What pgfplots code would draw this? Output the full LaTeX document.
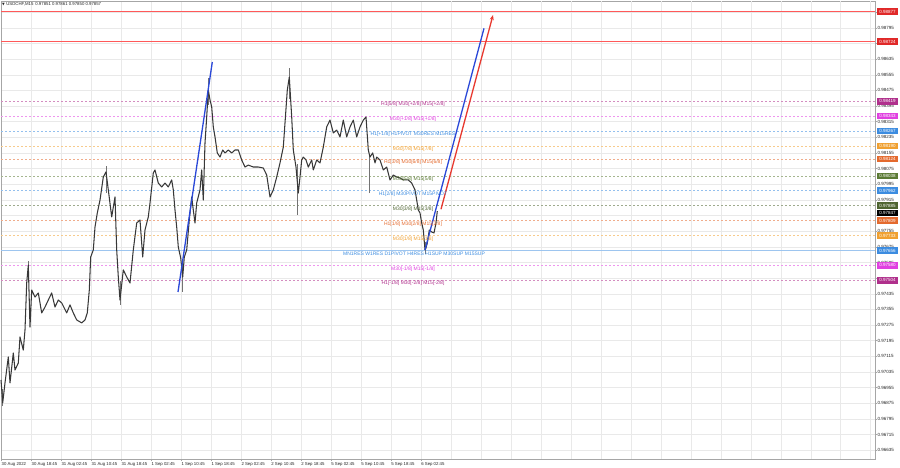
\documentclass[border=0pt]{standalone}
\usepackage{pgfplots}
\pgfplotsset{compat=1.18}
\usepackage{fontspec}
\setmainfont{Liberation Sans}
\newfontfamily\dejavu{DejaVu Sans}
\usetikzlibrary{arrows.meta}
\definecolor{lvPurple}{HTML}{B0308C}
\definecolor{lvMagenta}{HTML}{E040E0}
\definecolor{lvBlue}{HTML}{3C8CE0}
\definecolor{lvOrange}{HTML}{F0A030}
\definecolor{lvOrRed}{HTML}{E46A2E}
\definecolor{lvOlive}{HTML}{5B7A34}
\definecolor{lvOlive2}{HTML}{4E6430}
\definecolor{lvRed}{HTML}{E02828}
\definecolor{trendBlue}{HTML}{2A48D8}
\definecolor{trendRed}{HTML}{E83A30}
\pgfplotstableread{
x p
1 0.96994
2.7 0.96877
5 0.96979
8.3 0.97112
10 0.96979
13.3 0.97132
15 0.97045
18.3 0.97081
20 0.97214
23.3 0.97147
25 0.97250
26.7 0.97490
28.3 0.97582
30 0.97265
31.7 0.97454
35 0.97418
38.3 0.97439
41.7 0.97337
45 0.97367
48.3 0.97403
51.7 0.97439
55 0.97367
58.3 0.97403
61.7 0.97388
66.7 0.97337
70 0.97378
73.3 0.97337
76.7 0.97301
81.7 0.97286
85 0.97301
87.3 0.97337
89.3 0.97454
90.7 0.97623
93.3 0.97659
95 0.97776
97.3 0.97848
100 0.97914
103.3 0.98032
106 0.98058
108.3 0.97966
111.7 0.97828
115 0.97930
116.7 0.97659
118.3 0.97521
120 0.97403
123.3 0.97557
126.7 0.97521
130 0.97490
133.3 0.97659
136.7 0.97797
140 0.97812
142.7 0.97623
145 0.97761
148.3 0.97828
150 0.97899
153.3 0.98053
155 0.98068
158.3 0.98001
161.7 0.97981
165 0.98001
168.3 0.97981
171.7 0.98017
173.3 0.97966
175 0.97863
176.7 0.97776
178.3 0.97674
180.7 0.97618
182.7 0.97520
184.3 0.97623
186.7 0.97659
189.3 0.97812
191.7 0.97930
193.3 0.97863
195 0.97797
196.7 0.97899
200 0.97966
201.7 0.98068
203.3 0.97914
205 0.98206
206.7 0.98339
208.3 0.98477
210 0.98426
211.7 0.98390
213.3 0.98288
215 0.98237
217.3 0.98155
220 0.98134
222.7 0.98170
225 0.98155
228.3 0.98170
231.7 0.98155
235 0.98170
238.3 0.98170
241.7 0.98119
245 0.98083
248.3 0.98093
253.3 0.98083
258.3 0.98083
263.3 0.98078
266.7 0.98042
270 0.97930
273.3 0.97966
276.7 0.98032
280 0.98104
283.3 0.98185
285 0.98308
287.3 0.98477
289.3 0.98543
291.7 0.98339
293.3 0.98170
296 0.98083
298.3 0.97950
300 0.98032
301.7 0.98119
303.3 0.98134
306 0.98119
308.3 0.98083
311.7 0.98119
313.3 0.98068
316.7 0.98119
320 0.98104
323.3 0.98185
326.7 0.98288
330 0.98323
333.3 0.98257
336.7 0.98272
340 0.98237
343.3 0.98323
346.7 0.98237
350 0.98288
353.3 0.98323
356.7 0.98237
360 0.98288
363.3 0.98323
366 0.98339
368.3 0.98170
370 0.98134
372.7 0.98155
375 0.98104
376.7 0.98134
380 0.98119
383.3 0.98068
386.7 0.98083
390 0.98017
393.3 0.98042
396.7 0.98032
400 0.98027
403.3 0.98017
408.3 0.98017
411.7 0.98001
415 0.97966
416.7 0.97914
418.3 0.97863
420 0.97848
421.7 0.97797
423.3 0.97761
425 0.97660
426 0.97669
427.3 0.97695
429.3 0.97761
431.7 0.97751
434 0.97746
436 0.97797
437.3 0.97857
}\price
\begin{document}
\begin{tikzpicture}[x=1pt,y=1pt]
\useasboundingbox (0,0) rectangle (900,468);
\fill[white] (0,0) rectangle (900,468);
\begin{axis}[
  at={(1pt,9pt)}, anchor=south west,
  width=874pt, height=458pt, scale only axis,
  xmin=1, xmax=875, ymin=0.96590, ymax=0.98932,
  axis line style={gray!70, line width=0.6pt},
  xtick pos=lower, ytick pos=right, yticklabel pos=right,
  tick align=outside, major tick length=2pt, tick style={gray!70, line width=0.4pt},
  unbounded coords=jump,
  xtick={1.5,31.5,61.4,91.4,121.4,151.4,181.3,211.3,241.3,271.2,301.2,331.2,361.1,391.1,421.1},
  xticklabels={30 Aug 2022,30 Aug 18:45,31 Aug 02:45,31 Aug 10:45,31 Aug 18:45,1 Sep 02:45,1 Sep 10:45,1 Sep 18:45,2 Sep 02:45,2 Sep 10:45,2 Sep 18:45,5 Sep 02:45,5 Sep 10:45,5 Sep 18:45,6 Sep 02:45},
  extra x ticks={451.0,481.0,511.0,541.0,570.9,600.9,630.9,660.8,690.8,720.8,750.7,780.7,810.7,840.6,870.6},
  extra x tick labels={},
  extra x tick style={grid=major, major tick length=0pt},
  xticklabel style={anchor=north west, inner sep=0pt, yshift=-1.5pt, font=\fontsize{4.3}{5}\selectfont, text=black!85},
  ytick={0.96635,0.96715,0.96795,0.96875,0.96955,0.97035,0.97115,0.97195,0.97275,0.97355,0.97435,0.97515,0.97595,0.97675,0.97755,0.97835,0.97915,0.97995,0.98075,0.98155,0.98235,0.98315,0.98395,0.98475,0.98555,0.98635,0.98715,0.98795,0.98875},
  yticklabels={0.96635,0.96715,0.96795,0.96875,0.96955,0.97035,0.97115,0.97195,0.97275,0.97355,0.97435,,0.97595,0.97675,0.97755,,0.97915,0.97995,0.98075,0.98155,0.98235,0.98315,0.98395,0.98475,0.98555,0.98635,,0.98795,},
  yticklabel style={anchor=west, inner sep=0pt, xshift=0.5pt, font=\fontsize{4.5}{5}\selectfont, text=black!85},
  grid=major, major grid style={gray!17, line width=0.4pt},
  clip=false,
]
% level lines
\addplot[color=lvPurple!55, line width=0.5pt, dash pattern=on 2pt off 2pt] coordinates {(1,0.98419) (875,0.98419)};
\addplot[color=lvMagenta!55, line width=0.5pt, dash pattern=on 2pt off 2pt] coordinates {(1,0.98343) (875,0.98343)};
\addplot[color=lvBlue!55, line width=0.5pt, dash pattern=on 2pt off 2pt] coordinates {(1,0.98267) (875,0.98267)};
\addplot[color=lvOrange!55, line width=0.5pt, dash pattern=on 2pt off 2pt] coordinates {(1,0.98190) (875,0.98190)};
\addplot[color=lvOrRed!55, line width=0.5pt, dash pattern=on 2pt off 2pt] coordinates {(1,0.98124) (875,0.98124)};
\addplot[color=lvOlive!55, line width=0.5pt, dash pattern=on 2pt off 2pt] coordinates {(1,0.98038) (875,0.98038)};
\addplot[color=lvBlue!55, line width=0.5pt, dash pattern=on 2pt off 2pt] coordinates {(1,0.97962) (875,0.97962)};
\addplot[color=lvOlive2!55, line width=0.5pt, dash pattern=on 2pt off 2pt] coordinates {(1,0.97885) (875,0.97885)};
\addplot[color=lvOrRed!55, line width=0.5pt, dash pattern=on 2pt off 2pt] coordinates {(1,0.97809) (875,0.97809)};
\addplot[color=lvOrange!55, line width=0.5pt, dash pattern=on 2pt off 2pt] coordinates {(1,0.97733) (875,0.97733)};
\addplot[color=lvBlue!50, line width=1.2pt] coordinates {(1,0.97656) (875,0.97656)};
\addplot[color=lvMagenta!55, line width=0.5pt, dash pattern=on 2pt off 2pt] coordinates {(1,0.97580) (875,0.97580)};
\addplot[color=lvPurple!55, line width=0.5pt, dash pattern=on 2pt off 2pt] coordinates {(1,0.97504) (875,0.97504)};
% wicks
\addplot[color=black!55, line width=0.5pt] coordinates {
(2.7,0.96860) (2.7,0.96950) (2.7,nan)
(28.3,0.97500) (28.3,0.97600) (28.3,nan)
(106,0.97950) (106,0.98090) (106,nan)
(120,0.97378) (120,0.97500) (120,nan)
(182.7,0.97444) (182.7,0.97600) (182.7,nan)
(208.3,0.98400) (208.3,0.98540) (208.3,nan)
(289.3,0.98430) (289.3,0.98589) (289.3,nan)
(297,0.97838) (297,0.98100) (297,nan)
(369,0.97950) (369,0.98150) (369,nan)
(425,0.97640) (425,0.97700)
};
% price
\addplot[color=black!78, line width=1.05pt, line join=round] table[x=x, y=p] {\price};
% red resistance lines
\addplot[color=red!65, solid, line width=1.3pt] coordinates {(1,0.98877) (875,0.98877)};
\addplot[color=red!65, solid, line width=1.3pt] coordinates {(1,0.98724) (875,0.98724)};
% trend lines
\addplot[color=trendBlue, line width=1.3pt] coordinates {(178,0.97444) (212.3,0.98620)};
\addplot[color=trendBlue, line width=1.3pt] coordinates {(425,0.97659) (484,0.98792)};
\addplot[color=trendRed, line width=1.3pt, -{Stealth[length=5pt,width=4pt]}] coordinates {(441,0.97867) (493,0.98860)};
% level texts
\tikzset{lvtxt/.style={anchor=north, inner sep=0pt, yshift=-0.8pt, font=\fontsize{5}{6}\selectfont}}
\node[lvtxt, text=lvPurple] at (axis cs:413,0.98419) {H1[5/8] M30[+2/8] M15[+2/8]};
\node[lvtxt, text=lvMagenta] at (axis cs:413,0.98343) {M30[+1/8] M15[+1/8]};
\node[lvtxt, text=lvBlue] at (axis cs:413,0.98267) {H1[+1/8] H1PIVOT M30RES M15RES};
\node[lvtxt, text=lvOrange] at (axis cs:413,0.98190) {M30[7/8] M15[7/8]};
\node[lvtxt, text=lvOrRed] at (axis cs:413,0.98124) {H1[3/8] M30[6/8] M15[6/8]};
\node[lvtxt, text=lvOlive] at (axis cs:413,0.98038) {M30[5/8] M15[5/8]};
\node[lvtxt, text=lvBlue] at (axis cs:413,0.97962) {H1[2/8] M30PIVOT M15PIVOT};
\node[lvtxt, text=lvOlive2] at (axis cs:413,0.97885) {M30[3/8] M15[3/8]};
\node[lvtxt, text=lvOrRed] at (axis cs:413,0.97809) {H1[1/8] M30[2/8] M15[2/8]};
\node[lvtxt, text=lvOrange] at (axis cs:413,0.97733) {M30[1/8] M15[1/8]};
\node[lvtxt, text=lvBlue] at (axis cs:414,0.97656) {MN1RES W1RES D1PIVOT H4RES H1SUP M30SUP M15SUP};
\node[lvtxt, text=lvMagenta] at (axis cs:413,0.97580) {M30[-1/8] M15[-1/8]};
\node[lvtxt, text=lvPurple] at (axis cs:413,0.97504) {H1[-1/8] M30[-2/8] M15[-2/8]};
% anchors for price boxes
\coordinate (b1) at (axis cs:887.5,0.98877);
\coordinate (b2) at (axis cs:887.5,0.98724);
\coordinate (b3) at (axis cs:887.5,0.98419);
\coordinate (b4) at (axis cs:887.5,0.98343);
\coordinate (b5) at (axis cs:887.5,0.98267);
\coordinate (b6) at (axis cs:887.5,0.98190);
\coordinate (b7) at (axis cs:887.5,0.98124);
\coordinate (b8) at (axis cs:887.5,0.98038);
\coordinate (b9) at (axis cs:887.5,0.97962);
\coordinate (b10) at (axis cs:887.5,0.97885);
\coordinate (b11) at (axis cs:887.5,0.97847);
\coordinate (b12) at (axis cs:887.5,0.97809);
\coordinate (b13) at (axis cs:887.5,0.97733);
\coordinate (b14) at (axis cs:887.5,0.97656);
\coordinate (b15) at (axis cs:887.5,0.97580);
\coordinate (b16) at (axis cs:887.5,0.97504);
\end{axis}
\tikzset{pbox/.style={inner sep=0pt, minimum width=21pt, minimum height=6.6pt, text=white, font=\fontsize{4.5}{5}\selectfont}}
\node[pbox, fill=lvRed] at (b1) {0.98877};
\node[pbox, fill=lvRed] at (b2) {0.98724};
\node[pbox, fill=lvPurple] at (b3) {0.98419};
\node[pbox, fill=lvMagenta] at (b4) {0.98343};
\node[pbox, fill=lvBlue] at (b5) {0.98267};
\node[pbox, fill=lvOrange] at (b6) {0.98190};
\node[pbox, fill=lvOrRed] at (b7) {0.98124};
\node[pbox, fill=lvOlive] at (b8) {0.98038};
\node[pbox, fill=lvBlue] at (b9) {0.97962};
\node[pbox, fill=lvOlive2] at (b10) {0.97885};
\node[pbox, fill=black] at (b11) {0.97847};
\node[pbox, fill=lvOrRed] at (b12) {0.97809};
\node[pbox, fill=lvOrange] at (b13) {0.97733};
\node[pbox, fill=lvBlue] at (b14) {0.97656};
\node[pbox, fill=lvMagenta] at (b15) {0.97580};
\node[pbox, fill=lvPurple] at (b16) {0.97504};
% title
\node[anchor=west, inner sep=0pt, font=\fontsize{4.3}{5}\selectfont, text=black!85] at (2,463.5) {{\dejavu\fontsize{3.5}{4}\selectfont ▼}\hspace{1.5pt}USDCHF,M15\hspace{2pt}0.97851 0.97861 0.97850 0.97857};
\end{tikzpicture}
\end{document}
